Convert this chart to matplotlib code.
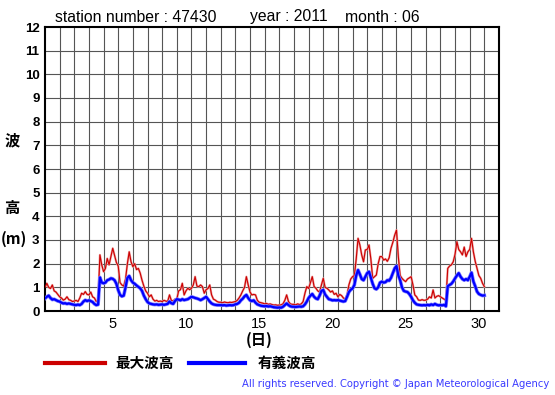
import numpy as np
import matplotlib
matplotlib.use("Agg")
import matplotlib.pyplot as plt

plt.rcParams['font.family'] = ['Liberation Sans', 'Noto Sans CJK JP', 'DejaVu Sans']

# 3-hourly values, June 2011, station 47430 (day offset 0..30)
sig_wave = [
    0.53, 0.60, 0.65, 0.55, 0.48, 0.50, 0.46, 0.42,
    0.40, 0.35, 0.32, 0.33, 0.30, 0.32, 0.30, 0.28,
    0.26, 0.25, 0.27, 0.25, 0.30, 0.40, 0.46, 0.42,
    0.45, 0.42, 0.38, 0.30, 0.25, 0.27, 1.42, 1.20,
    1.17, 1.20, 1.30, 1.33, 1.38, 1.36, 1.30, 1.15,
    0.88, 0.68, 0.62, 0.65, 1.00, 1.40, 1.48, 1.30,
    1.20, 1.15, 1.08, 1.02, 0.96, 0.85, 0.65, 0.50,
    0.38, 0.32, 0.30, 0.28, 0.27, 0.28, 0.26, 0.27,
    0.28, 0.26, 0.28, 0.30, 0.40, 0.33, 0.30, 0.42,
    0.50, 0.48, 0.45, 0.50, 0.46, 0.48, 0.50, 0.55,
    0.60, 0.58, 0.55, 0.53, 0.50, 0.46, 0.50, 0.55,
    0.60, 0.50, 0.40, 0.32, 0.28, 0.26, 0.25, 0.25,
    0.25, 0.24, 0.25, 0.23, 0.24, 0.25, 0.24, 0.25,
    0.28, 0.30, 0.35, 0.45, 0.52, 0.62, 0.68, 0.55,
    0.45, 0.42, 0.45, 0.35, 0.28, 0.25, 0.22, 0.21,
    0.20, 0.21, 0.19, 0.20, 0.18, 0.16, 0.15, 0.14,
    0.15, 0.14, 0.18, 0.25, 0.32, 0.25, 0.20, 0.18,
    0.18, 0.17, 0.18, 0.19, 0.18, 0.20, 0.28, 0.40,
    0.55, 0.65, 0.72, 0.60, 0.53, 0.50, 0.65, 0.85,
    0.89, 0.70, 0.60, 0.50, 0.48, 0.45, 0.46, 0.45,
    0.46, 0.44, 0.42, 0.40, 0.42, 0.60, 0.80, 0.90,
    0.95, 1.10, 1.50, 1.73, 1.55, 1.35, 1.30, 1.45,
    1.60, 1.66, 1.40, 1.15, 0.96, 0.92, 1.00, 1.20,
    1.24, 1.20, 1.22, 1.30, 1.28, 1.40, 1.60, 1.80,
    1.90, 1.50, 1.30, 1.00, 0.85, 0.82, 0.80, 0.72,
    0.60, 0.45, 0.35, 0.28, 0.26, 0.25, 0.24, 0.25,
    0.24, 0.26, 0.24, 0.28, 0.25, 0.30, 0.26, 0.24,
    0.25, 0.24, 0.26, 0.20, 1.05, 1.10, 1.15, 1.25,
    1.38, 1.50, 1.60, 1.45, 1.35, 1.30, 1.35, 1.30,
    1.45, 1.62, 1.25, 1.05, 0.82, 0.72, 0.68, 0.65,
    0.66,
]

max_wave = [
    1.00, 1.17, 1.00, 0.95, 1.10, 0.85, 0.80, 0.70,
    0.60, 0.55, 0.46, 0.50, 0.60, 0.48, 0.45, 0.40,
    0.42, 0.45, 0.40, 0.55, 0.75, 0.70, 0.82, 0.70,
    0.68, 0.80, 0.60, 0.55, 0.40, 0.45, 2.37, 1.95,
    1.66, 1.80, 2.22, 1.95, 2.30, 2.65, 2.35, 2.05,
    1.90, 1.20, 1.10, 1.05, 1.35, 2.00, 2.50, 2.08,
    1.87, 2.00, 1.75, 1.80, 1.60, 1.30, 1.05, 0.85,
    0.75, 0.60, 0.68, 0.50, 0.42, 0.45, 0.40, 0.42,
    0.40, 0.45, 0.42, 0.40, 0.68, 0.45, 0.42, 0.50,
    0.50, 0.85, 0.90, 1.17, 0.68, 0.85, 0.96, 0.90,
    0.96, 1.10, 1.45, 1.05, 1.03, 1.10, 1.03, 0.75,
    0.90, 0.95, 1.10, 0.68, 0.50, 0.46, 0.40, 0.37,
    0.37, 0.35, 0.38, 0.36, 0.35, 0.37, 0.36, 0.38,
    0.40, 0.45, 0.55, 0.68, 0.85, 1.00, 1.45, 1.10,
    0.80, 0.68, 0.70, 0.68, 0.45, 0.37, 0.35, 0.33,
    0.30, 0.32, 0.28, 0.30, 0.27, 0.25, 0.26, 0.24,
    0.25, 0.26, 0.30, 0.45, 0.68, 0.40, 0.30, 0.28,
    0.28, 0.26, 0.30, 0.27, 0.30, 0.40, 0.75, 1.03,
    0.95, 1.20, 1.45, 1.03, 0.96, 0.85, 0.80, 1.10,
    1.38, 1.00, 0.96, 0.89, 0.80, 0.85, 0.70, 0.75,
    0.60, 0.70, 0.65, 0.55, 0.50, 0.68, 1.10, 1.35,
    1.45, 1.50, 2.20, 3.07, 2.79, 2.37, 2.08, 2.58,
    2.60, 2.79, 2.20, 1.38, 1.45, 1.52, 2.00, 2.30,
    2.30, 2.15, 2.20, 2.10, 2.25, 2.65, 2.90, 3.20,
    3.42, 2.30, 1.50, 1.38, 1.30, 1.24, 1.35, 1.40,
    1.45, 1.10, 0.68, 0.60, 0.46, 0.45, 0.48, 0.45,
    0.46, 0.50, 0.60, 0.55, 0.89, 0.55, 0.62, 0.65,
    0.60, 0.55, 0.50, 0.45, 1.80, 1.90, 1.95, 2.08,
    2.40, 2.93, 2.60, 2.50, 2.37, 2.70, 2.30, 2.50,
    2.60, 3.07, 2.50, 2.10, 1.80, 1.50, 1.38, 1.17,
    1.03,
]

day_labels = [5, 10, 15, 20, 25, 30]

t = np.arange(len(max_wave)) / 8.0

fig = plt.figure(figsize=(5.55, 3.95), dpi=100)
ax = fig.add_axes([45/555, 1-311/395, 454/555, 284/395])

ax.set_xlim(0, 31)
ax.set_ylim(0, 12)
ax.set_yticks(np.arange(0, 13))
ax.set_yticklabels([str(v) for v in range(13)], fontweight='bold', fontsize=9.5)
ax.set_xticks([d - 0.36 for d in day_labels])
ax.set_xticklabels([str(d) for d in day_labels], fontsize=10.5)
ax.tick_params(axis='both', which='both', length=0)
ax.tick_params(axis='y', pad=4)
ax.tick_params(axis='x', pad=4)

for d in range(1, 31):
    ax.axvline(d, color='#555555', lw=0.8, zorder=1)
for v in range(1, 12):
    ax.axhline(v, color='#555555', lw=0.8, zorder=1)
for s in ax.spines.values():
    s.set_linewidth(1.5)
    s.set_color('black')

ax.plot(t, max_wave, color='#eca0a0', lw=1.6, zorder=2)
ax.plot(t, max_wave, color='#cc0000', lw=0.8, zorder=3)
ax.plot(t, sig_wave, color='#8080ff', lw=2.6, zorder=4)
ax.plot(t, sig_wave, color='#0000ff', lw=1.6, zorder=5)

# header
fig.text(55/555, 1-17/395, 'station number : 47430', fontsize=11.3, va='center', ha='left')
fig.text(250/555, 1-17/395, 'year : 2011', fontsize=11.3, va='center', ha='left')
fig.text(345/555, 1-17/395, 'month : 06', fontsize=11.3, va='center', ha='left')

# y label
cjk = ['Noto Sans CJK JP', 'DejaVu Sans']
fig.text(12/555, 1-140/395, '波', fontsize=11, fontweight='bold', family=cjk, ha='center', va='center')
fig.text(12/555, 1-208/395, '高', fontsize=11, fontweight='bold', family=cjk, ha='center', va='center')
fig.text(1/555, 1-239/395, '(m)', fontsize=11, fontweight='bold', family=cjk, ha='left', va='center')
fig.text(259/555, 1-340/395, '(日)', fontsize=11, fontweight='bold', family=cjk, ha='center', va='center')

# legend
fig.add_artist(plt.Line2D([45/555, 105/555], [1-363/395, 1-363/395], color='#cc0000', lw=3))
fig.text(115/555, 1-363/395, '最大波高', fontsize=10.5, fontweight='bold', family=cjk, va='center', ha='left')
fig.add_artist(plt.Line2D([189/555, 245/555], [1-363/395, 1-363/395], color='#0000ff', lw=3))
fig.text(258/555, 1-363/395, '有義波高', fontsize=10.5, fontweight='bold', family=cjk, va='center', ha='left')

fig.text(549/555, 1-384/395, 'All rights reserved. Copyright © Japan Meteorological Agency',
         fontsize=7.2, family=['DejaVu Sans'], color='#3a3aff', ha='right', va='center')

fig.savefig('out.png', dpi=100)
